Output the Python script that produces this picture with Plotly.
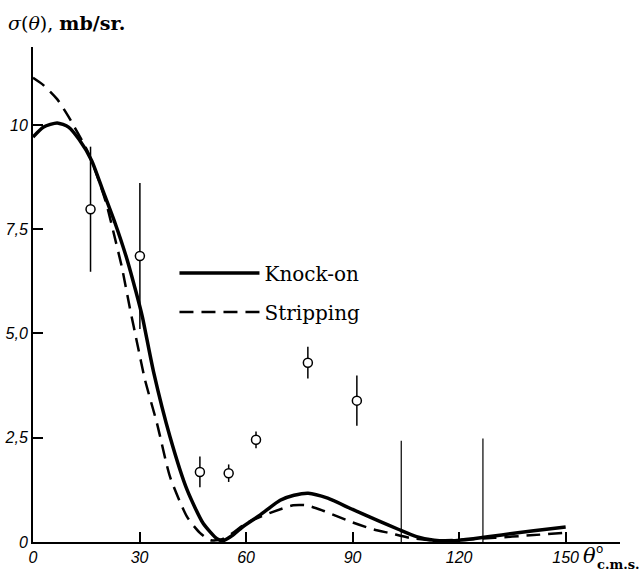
import plotly.graph_objects as go

# ---- data ----
angle_knock = [0, 3, 6.8, 10, 13, 16.5, 19.8, 23.1, 26.4, 29, 30.8, 33.9, 38.6, 43.4, 47.9, 51.8,
               53.5, 56, 59, 64, 69.6, 73.5, 77.5, 83, 90, 97, 103, 108, 113, 118, 124, 132, 141, 150]
sigma_knock = [9.71, 9.95, 10.05, 9.95, 9.65, 9.15, 8.4, 7.65, 6.8, 6.0, 5.4, 4.1, 2.52, 1.25, 0.45, 0.08,
               0.03, 0.15, 0.36, 0.65, 1.0, 1.12, 1.17, 1.05, 0.78, 0.52, 0.3, 0.13, 0.04, 0.03, 0.08, 0.17, 0.27, 0.36]

angle_strip = [0, 3, 6.8, 10, 15.2, 18, 20.7, 22.6, 25, 27.3, 29.5, 31.5, 34.9, 38.6, 43.4, 47, 50,
               53, 56, 60, 66.8, 73.3, 77, 81.7, 90, 96, 100.6, 106, 112, 120, 130, 140, 150]
sigma_strip = [11.13, 10.95, 10.62, 10.2, 9.4, 8.8, 8.1, 7.45, 6.6, 5.6, 4.7, 3.9, 2.85, 1.56, 0.6, 0.22, 0.04,
               0.06, 0.2, 0.45, 0.7, 0.88, 0.88, 0.75, 0.47, 0.3, 0.21, 0.1, 0.04, 0.05, 0.1, 0.16, 0.22]

exp_angle = [16.2, 30.1, 47.0, 55.1, 62.8, 77.4, 91.2]
exp_sigma = [7.98, 6.86, 1.68, 1.65, 2.45, 4.30, 3.39]
exp_err = [1.5, 1.75, 0.37, 0.21, 0.2, 0.38, 0.6]

limit_angle = [103.7, 126.7]
limit_base = [0, 0]
limit_top = [2.43, 2.48]

x_tickvals = [0, 30, 60, 90, 120, 150]
x_ticktext = ["0", "30", "60", "90", "120", "150"]
y_tickvals = [0, 2.5, 5, 7.5, 10]
y_ticktext = ["0", "2,5", "5,0", "7,5", "10"]

fig = go.Figure()

fig.add_trace(go.Scatter(
    x=angle_knock, y=sigma_knock, mode="lines", name="Knock-on",
    line=dict(color="black", width=3.5, shape="spline", smoothing=0.6),
    legendgroup="a"))
fig.add_trace(go.Scatter(
    x=angle_strip, y=sigma_strip, mode="lines", name="Stripping",
    line=dict(color="black", width=2.5, dash="14px,8px", shape="spline", smoothing=0.6),
    legendgroup="b"))
fig.add_trace(go.Scatter(
    x=exp_angle, y=exp_sigma, mode="markers", showlegend=False,
    marker=dict(symbol="circle", size=9, color="white", line=dict(color="black", width=1.5)),
    error_y=dict(type="data", array=exp_err, visible=True, color="black", thickness=1.5, width=0)))
fig.add_trace(go.Scatter(
    x=limit_angle, y=limit_base, mode="markers", showlegend=False,
    marker=dict(size=1, color="rgba(0,0,0,0)"),
    error_y=dict(type="data", symmetric=False, array=limit_top, arrayminus=[0, 0],
                 visible=True, color="black", thickness=1.2, width=0)))

tickfont = dict(family="Liberation Sans", size=16, color="black", style="italic")

fig.update_layout(
    width=643, height=573, autosize=False,
    margin=dict(l=33, r=23, t=47, b=31),
    plot_bgcolor="white", paper_bgcolor="white",
    showlegend=True,
    legend=dict(x=0.241, y=0.583, xanchor="left", yanchor="top",
                font=dict(family="DejaVu Serif", size=20, color="black"),
                bgcolor="rgba(0,0,0,0)", itemwidth=80, tracegroupgap=10),
    xaxis=dict(range=[0, 165.3], showline=True, linecolor="black", linewidth=2,
               ticks="inside", ticklen=10, tickwidth=1.5, tickcolor="black",
               tickvals=x_tickvals, ticktext=x_ticktext, tickfont=tickfont,
               showgrid=False, zeroline=False, automargin=False),
    yaxis=dict(range=[0, 11.87], showline=True, linecolor="black", linewidth=2,
               ticks="inside", ticklen=10, tickwidth=1.5, tickcolor="black",
               tickvals=y_tickvals, ticktext=y_ticktext, tickfont=tickfont,
               showgrid=False, zeroline=False, automargin=False),
    annotations=[
        dict(text="<i>σ</i>(<i>θ</i>), <b>mb/sr.</b>", xref="paper", yref="paper",
             x=-0.046, y=1.048, xanchor="left", yanchor="middle", showarrow=False,
             font=dict(family="DejaVu Serif", size=19, color="black")),
        dict(text="<i>θ</i>", xref="paper", yref="paper",
             x=0.9336, y=-0.028, xanchor="left", yanchor="middle", showarrow=False,
             font=dict(family="DejaVu Serif", size=21, color="black")),
        dict(text="o", xref="paper", yref="paper",
             x=0.956, y=-0.014, xanchor="left", yanchor="middle", showarrow=False,
             font=dict(family="DejaVu Sans", size=12, color="black")),
        dict(text="<b>c.m.s.</b>", xref="paper", yref="paper",
             x=1.0375, y=-0.046, xanchor="right", yanchor="middle", showarrow=False,
             font=dict(family="DejaVu Serif", size=13, color="black")),
    ],
)

fig.write_html("out.html", config={"displayModeBar": False},
               post_script="document.body.style.margin='0';")
